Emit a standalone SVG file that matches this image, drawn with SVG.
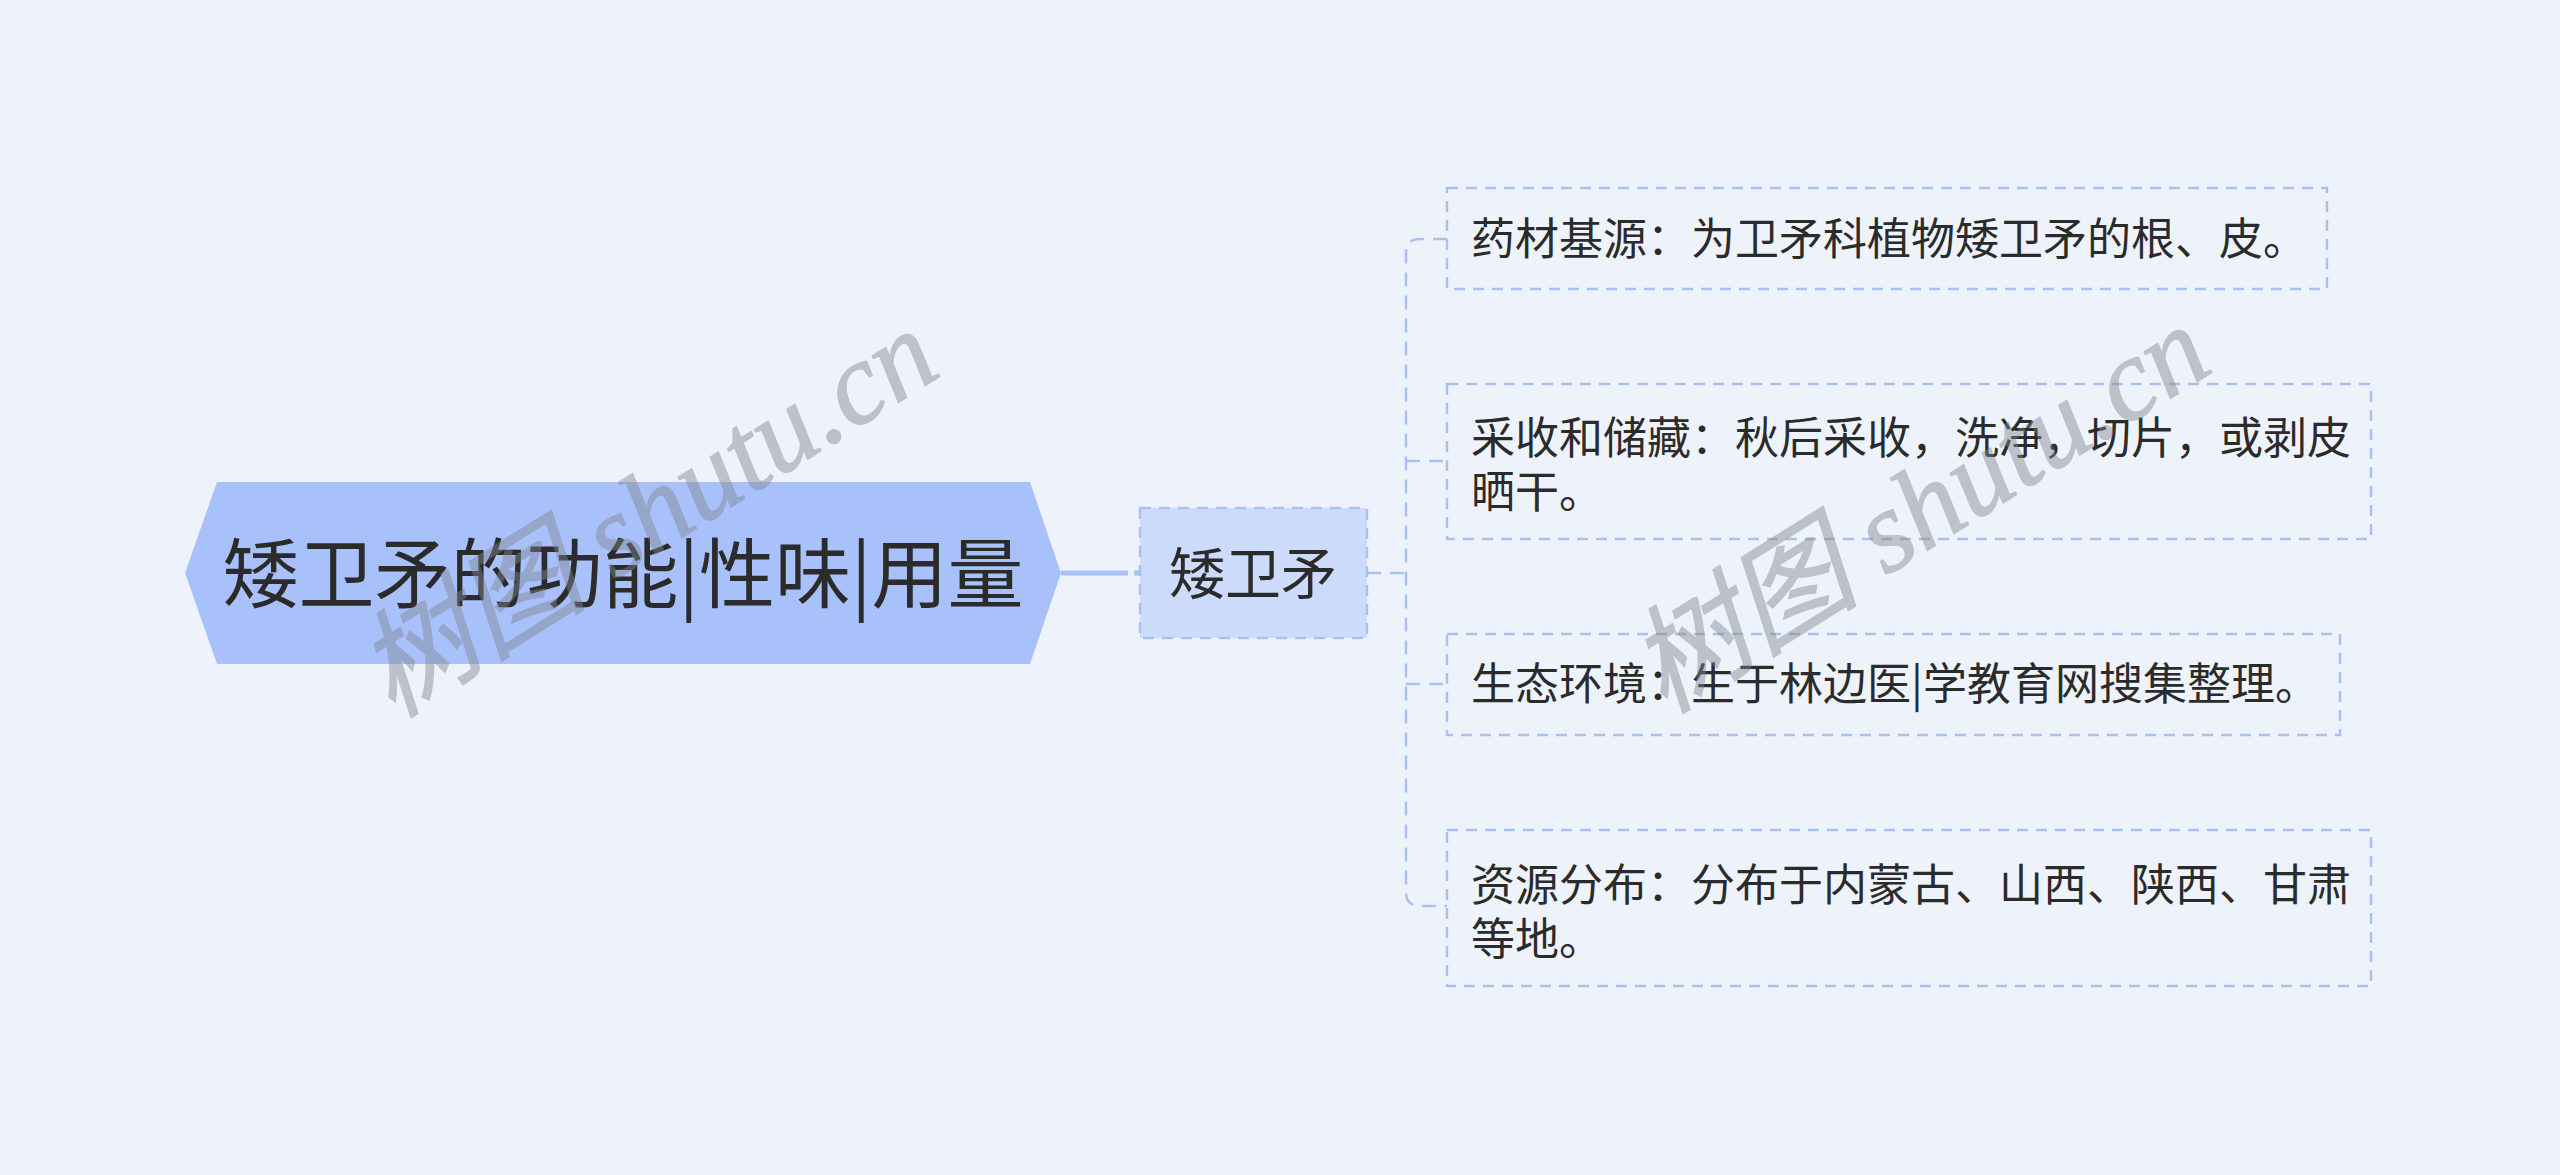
<svg xmlns="http://www.w3.org/2000/svg" width="2560" height="1175" viewBox="0 0 2560 1175">
<style>
.t{font-family:"Noto Sans CJK SC","Noto Sans",sans-serif;fill:#2b2b2b}
.leafbox{fill:none;stroke:#a9c1f0;stroke-width:2.5;stroke-dasharray:11 8}
.conn{fill:none;stroke:#a9c1f0;stroke-width:2.5;stroke-dasharray:14 9}
.wm{font-family:"Liberation Serif","Noto Sans CJK SC",serif;font-style:italic;fill:#80868f;stroke:#80868f;stroke-width:1.5;opacity:0.45}
</style>
<rect x="0" y="0" width="2560" height="1175" fill="#eef3fb"/>
<g id="connectors">
<path d="M1061 573 H1128" stroke="#a9c1f8" stroke-width="5" fill="none"/>
<path d="M1134 573 H1140" stroke="#a9c1f8" stroke-width="5" fill="none"/>
<path class="conn" d="M1367 573 H1406"/>
<path class="conn" d="M1447 239 H1420 Q1406 239 1406 253 V892 Q1406 906 1420 906 H1447"/>
<path class="conn" d="M1406 461 H1447"/>
<path class="conn" d="M1406 684 H1447"/>
</g>
<g id="root">
<polygon points="185,573 217,482 1030,482 1061,573 1030,664 217,664" fill="#a9c1fb"/>
<text class="t" x="623" y="602" font-size="76" text-anchor="middle">矮卫矛的功能|性味|用量</text>
</g>
<g id="sub">
<rect x="1140" y="508" width="227" height="130" fill="#ccdbfb" stroke="#a9c1f0" stroke-width="2.5" stroke-dasharray="11 8"/>
<text class="t" x="1253" y="594" font-size="56" text-anchor="middle">矮卫矛</text>
</g>
<g id="leaf1">
<rect class="leafbox" x="1447" y="188" width="880" height="101"/>
<text class="t" x="1471" y="255" font-size="44">药材基源：为卫矛科植物矮卫矛的根、皮。</text>
</g>
<g id="leaf2">
<rect class="leafbox" x="1447" y="384" width="924" height="155"/>
<text class="t" x="1471" y="454" font-size="44">采收和储藏：秋后采收，洗净，切片，或剥皮</text>
<text class="t" x="1471" y="508" font-size="44">晒干。</text>
</g>
<g id="leaf3">
<rect class="leafbox" x="1447" y="634" width="893" height="101"/>
<text class="t" x="1471" y="700" font-size="44">生态环境：生于林边医|学教育网搜集整理。</text>
</g>
<g id="leaf4">
<rect class="leafbox" x="1447" y="830" width="924" height="156"/>
<text class="t" x="1471" y="901" font-size="44">资源分布：分布于内蒙古、山西、陕西、甘肃</text>
<text class="t" x="1471" y="955" font-size="44">等地。</text>
</g>
<g id="watermarks">
<text class="wm" x="648" y="552" font-size="116" text-anchor="middle" transform="rotate(-32 648 514)">树图 shutu.cn</text>
<text class="wm" x="1920" y="548" font-size="116" text-anchor="middle" transform="rotate(-32 1920 510)">树图 shutu.cn</text>
</g>
</svg>
